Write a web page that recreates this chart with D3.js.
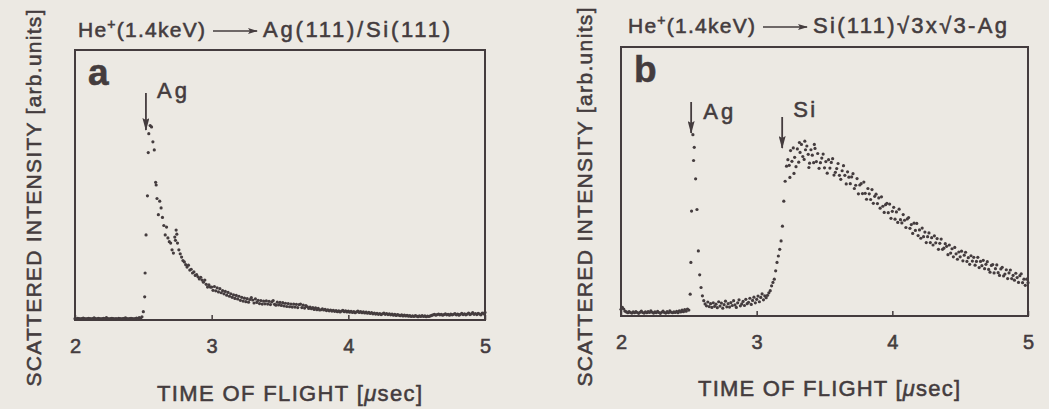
<!DOCTYPE html>
<html>
<head>
<meta charset="utf-8">
<script src="https://cdn.jsdelivr.net/npm/d3@7"></script>
<style>
  body { margin: 0; background: #ece9e3; }
  text { font-family: "Liberation Sans", Arial, sans-serif; fill: #443c3e; stroke: #443c3e; stroke-width: 0.55px; }
</style>
</head>
<body>
<div id="chart"></div>
<script>
// time-of-flight channels: start + step, one intensity per channel (percent of frame height)
const tofStart = 2.0;
const tofStep = 0.01;

// panel a : He+ -> Ag(111)/Si(111)
const intensityA = [
  0.5,0.4,0.6,0.5,0.4,0.5,0.7,0.5,0.4,0.5,
  0.6,0.5,0.4,0.5,0.8,0.5,0.4,0.6,0.5,0.4,
  0.5,0.6,0.5,0.9,0.5,0.4,0.5,0.6,0.5,0.4,
  0.5,0.4,0.6,0.5,0.4,0.5,0.6,0.8,0.5,0.4,
  0.5,0.6,0.5,0.4,0.5,0.7,0.5,0.9,0.6,1.2,
  3.1,8.6,31.5,46,69,72,71.5,66,63,51,
  45,39,44,41.5,38,35,31.5,34.4,30.4,29,
  28.5,26,24.8,30.7,33.3,28.5,26,24.5,23.3,22,
  21.5,20.5,19.6,20.3,18.5,18.8,17.4,17.8,16.5,16.8,
  16,15.2,15.8,14.8,14,14.8,13.2,12.2,13,12.2,
  12.2,11.0,12.4,10.8,11.9,10.4,11.6,10.1,10.9,9.7,
  10.6,9.2,10.2,8.8,9.7,8.4,9.3,8.0,9.1,7.8,
  8.8,7.3,8.4,7.0,8.1,6.8,7.9,6.6,7.6,8.3,
  7.4,6.3,7.8,6.5,7.3,6.1,7.2,5.9,7.0,6.0,
  7.1,5.9,6.9,5.7,6.7,7.2,5.8,5.5,6.6,5.6,
  6.5,5.4,6.4,5.2,6.2,5.0,6.1,4.9,5.9,4.8,
  5.9,4.8,5.8,4.6,5.7,5.9,4.6,5.5,4.4,5.3,
  4.9,4.3,4.8,4.2,4.6,3.9,4.5,3.8,4.3,3.7,
  3.8,4.1,3.7,3.9,3.5,3.8,3.4,3.7,3.3,3.6,
  3.2,3.5,3.1,3.4,3,3.3,3.6,3.1,3.4,3,
  3.3,2.9,3.2,2.8,3.1,2.7,3,3.3,2.8,3.1,
  2.7,3,2.6,2.9,2.5,2.8,2.4,2.7,2.3,2.6,
  2.2,2.5,2.1,2.4,2,2.3,2.6,2.1,2.4,2,
  2.3,1.9,2.2,1.8,2.1,1.7,2,1.8,1.6,1.9,
  1.5,1.8,1.5,1.7,1.4,1.6,1.3,1.5,1.3,1.6,
  1.4,1.2,1.5,1.3,1.6,1.3,1.5,1.2,1.4,1.3,
  1.5,1.7,1.9,2.1,1.8,2,2.2,1.9,2.1,1.8,
  2,2.3,1.9,2.1,1.8,2.2,1.9,2.1,2.4,1.9,
  2.2,1.8,2.1,2.5,2,2.3,1.9,2.2,2.6,2,
  2.3,2.7,2.1,2.4,2,2.5,2.2,1.9,2.6,2.3,
  2.8
];
const extraA = [[2.513, 17.4], [2.536, 62], [2.594, 50], [2.735, 29.5], [2.745, 31.8]];

// panel b : He+ -> Si(111)√3x√3-Ag
const intensityB = [
  2.5,3.2,2.6,1.8,1.5,1.2,1.6,1.3,1.1,1.5,
  1.2,1.6,1.3,1.0,1.4,1.8,1.3,1.1,1.5,1.2,
  1.6,1.3,1.9,1.4,1.1,1.5,1.2,1.7,1.3,1.0,
  1.4,1.8,1.3,1.1,1.6,1.2,1.9,1.4,1.2,1.5,
  1.3,1.7,1.2,1.9,1.5,2.2,1.6,2.4,1.8,2.6,
  2.2,8.1,39,67.4,62.7,51,39.6,24.2,15.3,10.6,
  7.5,5.7,4.5,3.8,5.2,3.5,4.6,3.2,4.9,3.6,
  4.4,3.1,5.3,3.7,4.8,2.9,4.2,5.5,3.4,4.6,
  3.3,5.0,3.9,5.7,4.1,3.2,4.9,6.0,3.8,4.5,
  5.4,3.9,6.2,4.6,5.1,6.6,4.3,5.8,7.0,4.9,
  6.2,7.4,5.3,6.9,8.2,6.0,7.5,6.8,7.7,8.6,
  9.4,11.2,12.5,13.7,16.8,19.9,22.3,24.8,27.9,33.4,
  42.7,50.1,55.7,58.1,56,61.5,57.5,62.5,59,55.5,
  62.1,57.2,60.8,63.8,59.3,58.2,61.8,63.2,60.1,56.8,
  61.8,59.8,57.0,62.3,57.4,60.4,54.9,57.0,58.7,60.2,
  55.1,57.4,53.1,58.1,55.0,57.1,58.5,52.4,53.4,54.8,
  56.7,52.3,50.8,54.0,55.9,52.3,49.1,53.6,51.6,49.2,
  51.7,52.9,47.4,48.6,51.1,45.4,48.7,49.2,45.5,49.8,
  45.6,43.4,47.4,45.4,43.3,47.0,41.9,44.5,45.3,41.8,
  43.9,40.1,44.3,40.8,38.5,41.4,41.9,38.4,41.6,36.3,
  38.9,40.4,36.0,38.7,34.8,39.7,35.8,34.6,37.7,35.6,
  32.9,36.1,36.6,32.6,34.0,30.7,34.5,31.8,34.4,29.9,
  32.0,28.9,32.7,29.5,31.2,27.3,29.5,30.9,27.3,29.1,
  26.4,29.8,27.2,28.8,24.8,27.0,28.6,24.8,25.2,26.9,
  25.9,22.8,26.4,23.4,25.0,22.0,25.5,23.1,21.1,23.8,
  22.0,24.1,20.5,22.6,23.7,20.3,21.7,19.2,22.4,20.4,
  21.8,18.9,20.3,21.8,18.0,20.3,18.7,20.7,17.6,19.2,
  20.2,17.3,16.3,18.8,19.1,16.0,17.6,19.0,16.1,15.1,
  17.5,18.1,14.9,15.6,17.2,13.9,16.0,17.1,13.9,15.1,
  13.3,15.9,14.3,12.5,15.0,15.7,12.4,13.7,11.4,13.7,
  12.4
];
const extraB = [[2.515, 19.9], [2.535, 57.8], [3.245, 51.5], [3.275, 53], [3.315, 64.5],
                [3.355, 65], [3.425, 63.8], [3.385, 55.2]];

const xTickValues = [2, 3, 4, 5];
const xDomain = [2, 5];
const yDomain = [0, 100];

const targetA = "Ag(111)/Si(111)";
const targetB = "Si(111)\u221A3x\u221A3-Ag";
const peaksA = [{ label: "Ag", t: 2.519 }];
const peaksB = [{ label: "Ag", t: 2.517 }, { label: "Si", t: 3.188 }];

const width = 1049;
const height = 409;
const ink = "#443c3e";

const svg = d3.select("#chart").append("svg")
    .attr("width", width)
    .attr("height", height);

svg.append("rect").attr("width", width).attr("height", height).attr("fill", "#ece9e3");

function toPoints(values, extra) {
    let pts = values.map((v, i) => [tofStart + i * tofStep, v]);
    return pts.concat(extra);
}

// layout of the two panels (pixel positions of frames and texts)
const panels = [
    { letter: "a", points: toPoints(intensityA, extraA), target: targetA, peaks: peaksA,
      left: 75, right: 485, top: 50, bottom: 320,
      titleX: 78, titleY: 37, titleW: 127, targetX: 263, targetW: 187,
      yLabelX: 41, yLabelY: 198, yLabelW: 377, xLabelX: 157, xLabelY: 401, xLabelW: 265,
      arrows: [{ y1: 93, y2: 130, lx: 11, ly: 98, lw: 30 }] },
    { letter: "b", points: toPoints(intensityB, extraB), target: targetB, peaks: peaksB,
      left: 621, right: 1028, top: 47, bottom: 316,
      titleX: 628, titleY: 33, titleW: 127, targetX: 813, targetW: 194,
      yLabelX: 592, yLabelY: 197, yLabelW: 379, xLabelX: 698, xLabelY: 396, xLabelW: 262,
      arrows: [{ y1: 102, y2: 133, lx: 12, ly: 119, lw: 30 }, { y1: 117, y2: 148, lx: 11, ly: 117, lw: 22 }] }
];

const defs = svg.append("defs");
defs.append("marker")
    .attr("id", "head")
    .attr("viewBox", "0 0 13 7")
    .attr("refX", 12).attr("refY", 3.5)
    .attr("markerWidth", 13).attr("markerHeight", 7)
    .attr("markerUnits", "userSpaceOnUse")
    .attr("orient", "auto")
  .append("path")
    .attr("d", "M0,0 L13,3.5 L0,7 L2,3.5 z")
    .attr("fill", ink);
defs.append("marker")
    .attr("id", "headSmall")
    .attr("viewBox", "0 0 10 6")
    .attr("refX", 9).attr("refY", 3)
    .attr("markerWidth", 10).attr("markerHeight", 6)
    .attr("markerUnits", "userSpaceOnUse")
    .attr("orient", "auto")
  .append("path")
    .attr("d", "M0,0 L10,3 L0,6 L2,3 z")
    .attr("fill", ink);

panels.forEach(function (p) {
    const x = d3.scaleLinear().domain(xDomain).range([p.left, p.right]);
    const y = d3.scaleLinear().domain(yDomain).range([p.bottom, p.top]);
    const g = svg.append("g");

    // frame
    g.append("rect")
        .attr("x", p.left).attr("y", p.top)
        .attr("width", p.right - p.left).attr("height", p.bottom - p.top)
        .attr("fill", "none")
        .attr("stroke", ink)
        .attr("stroke-width", 2);

    // x axis: inward ticks, labels below
    const axis = g.append("g")
        .attr("transform", "translate(0," + p.bottom + ")")
        .call(d3.axisBottom(x).tickValues(xTickValues).tickFormat(d3.format("d"))
            .tickSizeInner(-5).tickSizeOuter(0).tickPadding(19));
    axis.select(".domain").remove();
    axis.selectAll("line").attr("stroke", ink).attr("stroke-width", 1.5);
    axis.selectAll("text")
        .attr("font-size", 20)
        .attr("font-family", "Liberation Sans, Arial, sans-serif")
        .attr("fill", ink);

    // data
    g.append("g").selectAll("circle")
        .data(p.points)
        .enter().append("circle")
        .attr("cx", d => x(d[0]))
        .attr("cy", d => y(d[1]))
        .attr("r", 1.6)
        .attr("fill", ink);

    // panel letter
    g.append("text")
        .attr("x", p.left + 13).attr("y", p.top + 35)
        .attr("font-size", 37).attr("font-weight", "bold")
        .text(p.letter);

    // peak arrows
    p.peaks.forEach(function (pk, i) {
        const a = p.arrows[i];
        g.append("line")
            .attr("x1", x(pk.t)).attr("x2", x(pk.t))
            .attr("y1", a.y1).attr("y2", a.y2)
            .attr("stroke", ink).attr("stroke-width", 1.8)
            .attr("marker-end", "url(#head)");
        g.append("text")
            .attr("x", x(pk.t) + a.lx).attr("y", a.ly)
            .attr("font-size", 22)
            .attr("textLength", a.lw).attr("lengthAdjust", "spacing")
            .text(pk.label);
    });

    // title: He+(1.4keV) ---> target
    const t1 = g.append("text")
        .attr("x", p.titleX).attr("y", p.titleY)
        .attr("font-size", 21)
        .attr("textLength", p.titleW).attr("lengthAdjust", "spacing");
    t1.append("tspan").text("He");
    t1.append("tspan").attr("font-size", 14).attr("dy", -8).text("+");
    t1.append("tspan").attr("dy", 8).text("(1.4keV)");
    g.append("line")
        .attr("x1", p.titleX + p.titleW + 8).attr("x2", p.targetX - 6)
        .attr("y1", p.titleY - 6).attr("y2", p.titleY - 6)
        .attr("stroke", ink).attr("stroke-width", 1.4)
        .attr("marker-end", "url(#headSmall)");
    g.append("text")
        .attr("x", p.targetX).attr("y", p.titleY)
        .attr("font-size", 22)
        .attr("textLength", p.targetW).attr("lengthAdjust", "spacing")
        .text(p.target);

    // axis titles
    const xl = g.append("text")
        .attr("x", p.xLabelX).attr("y", p.xLabelY)
        .attr("font-size", 22)
        .attr("textLength", p.xLabelW).attr("lengthAdjust", "spacing");
    xl.append("tspan").text("TIME OF FLIGHT [");
    xl.append("tspan").attr("font-style", "italic").text("\u03BC");
    xl.append("tspan").text("sec]");

    g.append("text")
        .attr("transform", "translate(" + p.yLabelX + "," + p.yLabelY + ") rotate(-90)")
        .attr("text-anchor", "middle")
        .attr("font-size", 21)
        .attr("textLength", p.yLabelW).attr("lengthAdjust", "spacing")
        .text("SCATTERED INTENSITY [arb.units]");
});
</script>
</body>
</html>
